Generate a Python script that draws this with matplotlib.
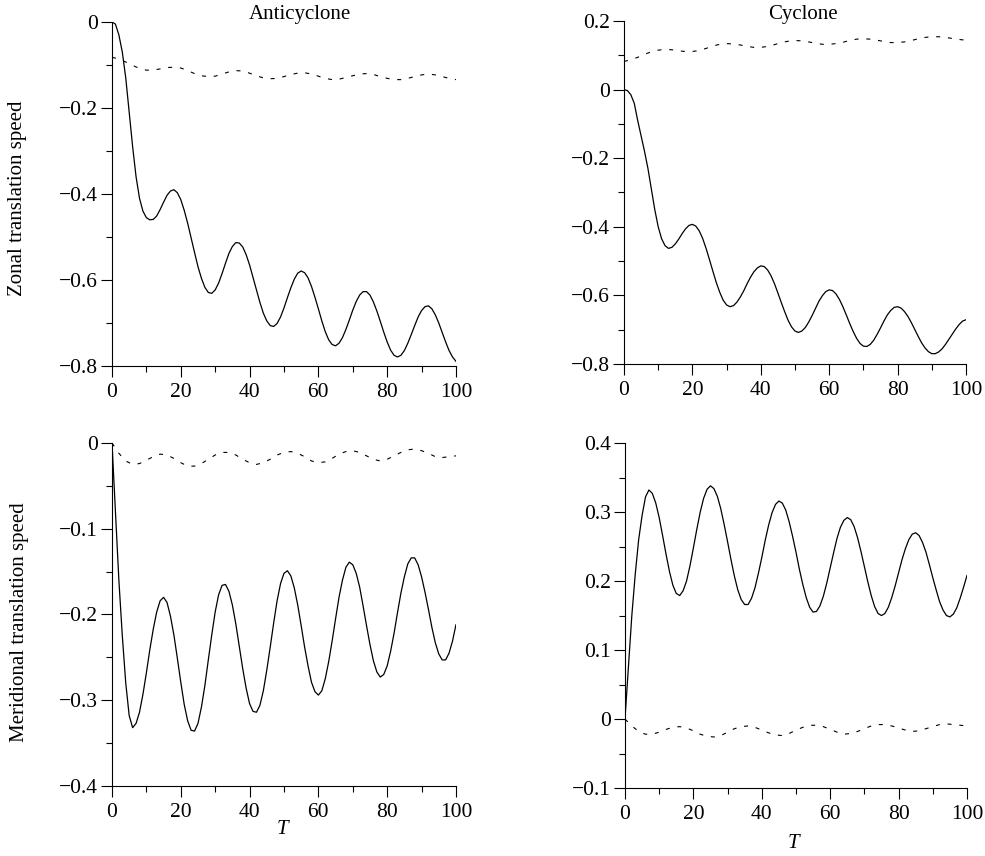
import numpy as np
import matplotlib
matplotlib.use('Agg')
import matplotlib.pyplot as plt
from matplotlib.ticker import MultipleLocator, FuncFormatter

plt.rcParams['font.family'] = ['Liberation Serif', 'DejaVu Serif']
plt.rcParams['font.size'] = 15

# Tempo (amostras)
t_solid = np.arange(0, 101, 1)
t_dash = np.arange(0, 101, 2)

# Anticiclone - velocidade zonal
anti_zonal = [
    0.0, -0.005, -0.030, -0.070, -0.130, -0.210, -0.290, -0.360, -0.410, -0.440,
    -0.455, -0.460, -0.459, -0.451, -0.436, -0.419, -0.403, -0.393, -0.390, -0.397,
    -0.413, -0.438, -0.468, -0.502, -0.536, -0.569, -0.596, -0.617, -0.629, -0.631,
    -0.623, -0.607, -0.585, -0.561, -0.538, -0.522, -0.513, -0.514, -0.523, -0.541,
    -0.565, -0.594, -0.623, -0.652, -0.677, -0.695, -0.706, -0.708, -0.701, -0.686,
    -0.665, -0.641, -0.618, -0.598, -0.584, -0.579, -0.583, -0.595, -0.615, -0.640,
    -0.667, -0.695, -0.720, -0.739, -0.750, -0.753, -0.747, -0.734, -0.715, -0.693,
    -0.670, -0.650, -0.635, -0.627, -0.627, -0.635, -0.651, -0.672, -0.696, -0.721,
    -0.744, -0.763, -0.775, -0.779, -0.775, -0.764, -0.747, -0.727, -0.706, -0.686,
    -0.671, -0.662, -0.660, -0.667, -0.681, -0.700, -0.722, -0.744, -0.764, -0.779,
    -0.789]
anti_zonal_dash = [
    -0.082, -0.086, -0.093, -0.101, -0.108, -0.112, -0.112, -0.109, -0.106, -0.105,
    -0.107, -0.113, -0.120, -0.125, -0.127, -0.126, -0.121, -0.116, -0.113, -0.114,
    -0.119, -0.125, -0.130, -0.132, -0.131, -0.127, -0.122, -0.119, -0.118, -0.121,
    -0.126, -0.131, -0.134, -0.133, -0.129, -0.125, -0.121, -0.120, -0.122, -0.127,
    -0.131, -0.134, -0.134, -0.131, -0.127, -0.123, -0.121, -0.123, -0.127, -0.131,
    -0.134]

# Ciclone - velocidade zonal
cyc_zonal = [
    0.0, -0.003, -0.015, -0.040, -0.090, -0.135, -0.180, -0.230, -0.290, -0.350,
    -0.400, -0.435, -0.455, -0.463, -0.460, -0.450, -0.436, -0.420, -0.406, -0.396,
    -0.393, -0.398, -0.412, -0.434, -0.463, -0.496, -0.530, -0.563, -0.591, -0.614,
    -0.628, -0.633, -0.630, -0.620, -0.605, -0.587, -0.566, -0.547, -0.531, -0.520,
    -0.514, -0.516, -0.526, -0.543, -0.566, -0.593, -0.621, -0.648, -0.673, -0.692,
    -0.704, -0.708, -0.704, -0.694, -0.678, -0.659, -0.638, -0.617, -0.601, -0.589,
    -0.584, -0.586, -0.596, -0.612, -0.633, -0.657, -0.682, -0.705, -0.725, -0.740,
    -0.748, -0.749, -0.743, -0.731, -0.714, -0.695, -0.675, -0.657, -0.644, -0.635,
    -0.633, -0.637, -0.647, -0.661, -0.679, -0.699, -0.719, -0.738, -0.753, -0.764,
    -0.770, -0.770, -0.765, -0.756, -0.743, -0.728, -0.713, -0.698, -0.685, -0.675,
    -0.671]
cyc_zonal_dash = [
    0.082, 0.087, 0.094, 0.103, 0.110, 0.115, 0.117, 0.116, 0.113, 0.111,
    0.111, 0.114, 0.120, 0.127, 0.132, 0.134, 0.133, 0.130, 0.126, 0.123,
    0.123, 0.126, 0.131, 0.137, 0.141, 0.143, 0.142, 0.139, 0.135, 0.132,
    0.132, 0.134, 0.138, 0.143, 0.147, 0.148, 0.147, 0.144, 0.140, 0.137,
    0.137, 0.139, 0.143, 0.148, 0.152, 0.154, 0.154, 0.152, 0.149, 0.146,
    0.144]

# Anticiclone - velocidade meridional
anti_merid = [
    0.0, -0.080, -0.160, -0.225, -0.280, -0.318, -0.332, -0.327, -0.314, -0.293,
    -0.268, -0.241, -0.217, -0.197, -0.184, -0.180, -0.186, -0.202, -0.224, -0.251,
    -0.279, -0.305, -0.324, -0.335, -0.336, -0.327, -0.308, -0.283, -0.253, -0.224,
    -0.197, -0.177, -0.166, -0.165, -0.173, -0.189, -0.211, -0.237, -0.263, -0.286,
    -0.304, -0.313, -0.314, -0.306, -0.289, -0.265, -0.238, -0.210, -0.184, -0.164,
    -0.152, -0.149, -0.155, -0.169, -0.189, -0.213, -0.238, -0.260, -0.279, -0.290,
    -0.294, -0.289, -0.275, -0.255, -0.231, -0.205, -0.180, -0.160, -0.145, -0.139,
    -0.142, -0.152, -0.168, -0.190, -0.213, -0.235, -0.254, -0.267, -0.273, -0.270,
    -0.260, -0.243, -0.222, -0.198, -0.175, -0.156, -0.141, -0.134, -0.134, -0.142,
    -0.156, -0.174, -0.194, -0.215, -0.233, -0.246, -0.253, -0.253, -0.245, -0.231,
    -0.212]
anti_merid_dash = [
    0.0, -0.012, -0.021, -0.025, -0.024, -0.020, -0.016, -0.013, -0.014, -0.018,
    -0.023, -0.027, -0.027, -0.024, -0.019, -0.014, -0.011, -0.011, -0.014, -0.019,
    -0.023, -0.025, -0.023, -0.019, -0.014, -0.011, -0.010, -0.012, -0.016, -0.021,
    -0.023, -0.022, -0.018, -0.013, -0.010, -0.009, -0.011, -0.015, -0.019, -0.021,
    -0.019, -0.015, -0.011, -0.008, -0.007, -0.009, -0.012, -0.016, -0.017, -0.016,
    -0.015]

# Ciclone - velocidade meridional
cyc_merid = [
    0.0, 0.075, 0.150, 0.210, 0.260, 0.295, 0.322, 0.332, 0.327, 0.313,
    0.292, 0.266, 0.239, 0.214, 0.194, 0.182, 0.179, 0.186, 0.200, 0.222,
    0.248, 0.275, 0.300, 0.320, 0.333, 0.338, 0.334, 0.323, 0.305, 0.282,
    0.257, 0.231, 0.207, 0.187, 0.173, 0.166, 0.166, 0.175, 0.190, 0.211,
    0.234, 0.259, 0.281, 0.299, 0.311, 0.316, 0.313, 0.303, 0.286, 0.265,
    0.242, 0.217, 0.195, 0.176, 0.162, 0.155, 0.156, 0.164, 0.178, 0.197,
    0.219, 0.241, 0.262, 0.278, 0.288, 0.292, 0.289, 0.279, 0.263, 0.243,
    0.221, 0.199, 0.179, 0.163, 0.153, 0.150, 0.153, 0.162, 0.176, 0.193,
    0.212, 0.231, 0.247, 0.260, 0.268, 0.270, 0.266, 0.256, 0.242, 0.224,
    0.205, 0.187, 0.170, 0.158, 0.150, 0.148, 0.152, 0.161, 0.175, 0.191,
    0.208]
cyc_merid_dash = [
    0.0, -0.010, -0.018, -0.022, -0.022, -0.019, -0.015, -0.012, -0.011, -0.013,
    -0.017, -0.022, -0.025, -0.026, -0.024, -0.019, -0.014, -0.011, -0.010, -0.012,
    -0.016, -0.020, -0.023, -0.024, -0.021, -0.016, -0.012, -0.009, -0.009, -0.011,
    -0.015, -0.019, -0.022, -0.021, -0.018, -0.014, -0.010, -0.008, -0.008, -0.010,
    -0.013, -0.016, -0.018, -0.017, -0.014, -0.011, -0.008, -0.007, -0.008, -0.009,
    -0.010]


def fmt(v, pos):
    if abs(v) < 1e-9:
        return '0'
    return ('%g' % v).replace('-', '\u2212')


def painel(pos, solid, dash, ylim, major, minor):
    ax = fig.add_axes(pos)
    ax.plot(t_solid, solid, color='black', lw=0.9)
    ax.plot(t_dash, dash, color='black', lw=0.8, dashes=(3.6, 7))
    ax.set_xlim(0, 100)
    ax.set_ylim(*ylim)
    ax.spines['top'].set_visible(False)
    ax.spines['right'].set_visible(False)
    ax.spines['left'].set_linewidth(0.8)
    ax.spines['bottom'].set_linewidth(0.8)
    ax.xaxis.set_major_locator(MultipleLocator(20))
    ax.xaxis.set_minor_locator(MultipleLocator(10))
    ax.yaxis.set_major_locator(MultipleLocator(major))
    ax.yaxis.set_minor_locator(MultipleLocator(minor))
    ax.xaxis.set_major_formatter(FuncFormatter(fmt))
    ax.yaxis.set_major_formatter(FuncFormatter(fmt))
    ax.tick_params(which='major', direction='out', length=8, width=0.8, labelsize=15.5)
    ax.tick_params(which='minor', direction='out', length=4, width=0.8)
    ax.tick_params(axis='y', which='major', pad=2)
    ax.tick_params(axis='x', which='major', pad=4)
    return ax


fig = plt.figure(figsize=(9.85, 8.56), dpi=100)

painel([0.1137, 0.5724, 0.3492, 0.4019], anti_zonal, anti_zonal_dash, (-0.8, 0), 0.2, 0.1)
painel([0.6335, 0.5748, 0.3472, 0.4007], cyc_zonal, cyc_zonal_dash, (-0.8, 0.2), 0.2, 0.1)
painel([0.1137, 0.0818, 0.3492, 0.4007], anti_merid, anti_merid_dash, (-0.4, 0), 0.1, 0.05)
painel([0.6345, 0.0794, 0.3472, 0.4030], cyc_merid, cyc_merid_dash, (-0.1, 0.4), 0.1, 0.05)

fig.text(300 / 985, 1 - 15 / 856, 'Anticyclone', ha='center', va='center', fontsize=15)
fig.text(803 / 985, 1 - 15 / 856, 'Cyclone', ha='center', va='center', fontsize=15)
fig.text(18 / 985, 1 - 198 / 856, 'Zonal translation speed', rotation=90,
         ha='center', va='center', fontsize=15)
fig.text(20 / 985, 1 - 622 / 856, 'Meridional translation speed', rotation=90,
         ha='center', va='center', fontsize=15)
fig.text(282 / 985, 1 - 829 / 856, 'T', style='italic', ha='center', va='center', fontsize=15)
fig.text(793 / 985, 1 - 843 / 856, 'T', style='italic', ha='center', va='center', fontsize=15)

plt.savefig('out.png', dpi=100)
